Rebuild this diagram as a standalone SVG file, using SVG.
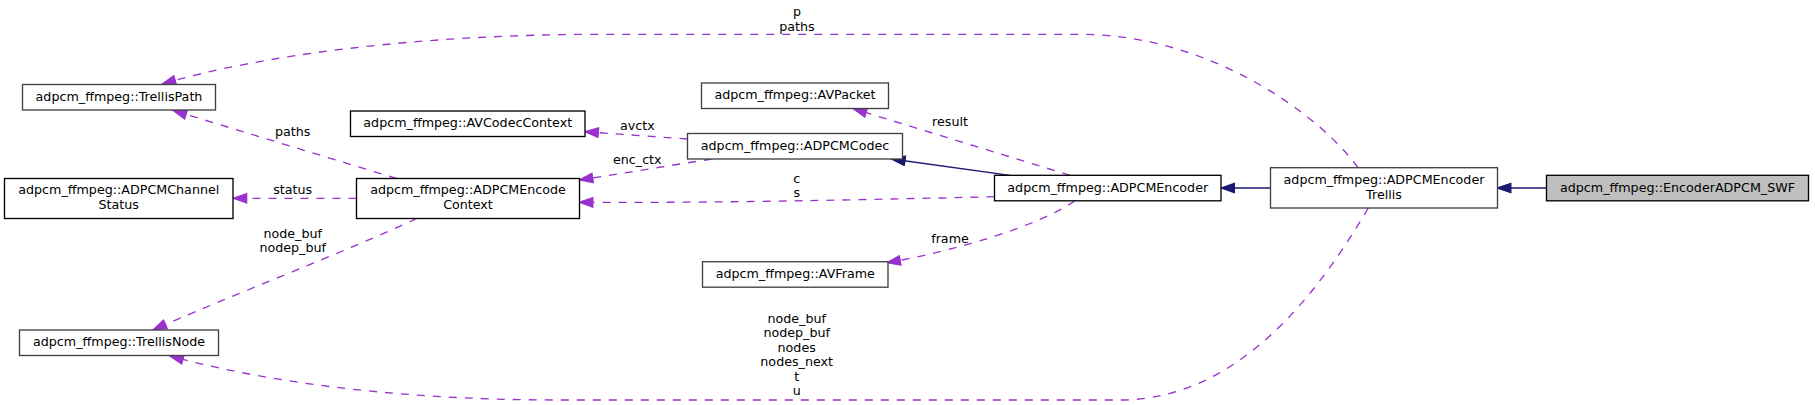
<svg xmlns="http://www.w3.org/2000/svg" width="1815" height="405" viewBox="0 0 1815 405">
<style>
  text { font-family: "DejaVu Sans", "Liberation Sans", sans-serif; font-size: 12.7px; fill: #000; text-anchor: middle; }
  .box { fill: #fff; stroke: #000; stroke-width: 1.33; }
  .gbox { fill: #fff; stroke: #404040; stroke-width: 1.33; }
  .cur { fill: #bfbfbf; stroke: #000; stroke-width: 1.33; }
  .inh { fill: none; stroke: #191970; stroke-width: 1.33; }
  .use { fill: none; stroke: #9a32cd; stroke-width: 1.33; stroke-dasharray: 8,8; }
</style>
<defs>
  <marker id="ah" markerUnits="userSpaceOnUse" viewBox="-1 -1 15.5 11.5" markerWidth="15.5" markerHeight="11.5" refX="13.33" refY="4.67" orient="auto">
    <path d="M0,0 L13.33,4.67 L0,9.33 z" fill="#191970" stroke="#191970" stroke-width="1.33"/>
  </marker>
  <marker id="ap" markerUnits="userSpaceOnUse" viewBox="-1 -1 15.5 11.5" markerWidth="15.5" markerHeight="11.5" refX="13.33" refY="4.67" orient="auto">
    <path d="M0,0 L13.33,4.67 L0,9.33 z" fill="#9a32cd" stroke="#9a32cd" stroke-width="1.33"/>
  </marker>
</defs>
<rect x="0" y="0" width="1815" height="405" fill="#fff"/>

<g id="edges">
  <path class="inh" d="M1546.5,188 L1497.5,188" marker-end="url(#ah)"/>
  <path class="inh" d="M1270.5,188 L1221,188" marker-end="url(#ah)"/>
  <path class="inh" d="M1010,175.3 L891.7,159" marker-end="url(#ah)"/>
  <path class="use" d="M1070,175.3 L853.3,108.7" marker-end="url(#ap)"/>
  <path class="use" d="M687.5,139 L585,131.7" marker-end="url(#ap)"/>
  <path class="use" d="M711.7,159 L579.5,180" marker-end="url(#ap)"/>
  <path class="use" d="M994.5,196.7 C850,200 720,203 579.5,202.3" marker-end="url(#ap)"/>
  <path class="use" d="M1075,200.8 C1040,225 960,250 887,262.7" marker-end="url(#ap)"/>
  <path class="use" d="M356.5,198.3 L233.3,198.3" marker-end="url(#ap)"/>
  <path class="use" d="M396.7,178.5 L173.3,110.5" marker-end="url(#ap)"/>
  <path class="use" d="M416.7,218.5 C350,250 220,300 153.3,329.8" marker-end="url(#ap)"/>
  <path class="use" d="M1358,167.7 C1320,115 1210,34.3 1080,34.3 L600,34.3 C420,34.3 260,55 162.3,84" marker-end="url(#ap)"/>
  <path class="use" d="M1368.3,208 C1320,290 1240,400 1120,400 L560,400 C380,400 250,378 170,356" marker-end="url(#ap)"/>
  <text x="797" y="16">p</text>
  <text x="797" y="30.5">paths</text>
  <text x="950" y="126">result</text>
  <text x="637.3" y="130">avctx</text>
  <text x="637.3" y="164.3">enc_ctx</text>
  <text x="796.7" y="182.7">c</text>
  <text x="796.7" y="196.7">s</text>
  <text x="950" y="242.7">frame</text>
  <text x="292.7" y="135.7">paths</text>
  <text x="292.7" y="194.3">status</text>
  <text x="292.7" y="238.3">node_buf</text>
  <text x="292.7" y="252.3">nodep_buf</text>
  <text x="796.7" y="322.5">node_buf</text>
  <text x="796.7" y="337">nodep_buf</text>
  <text x="796.7" y="351.5">nodes</text>
  <text x="796.7" y="366">nodes_next</text>
  <text x="796.7" y="380.5">t</text>
  <text x="796.7" y="395">u</text>
</g>

<g id="node-swf">
  <rect class="cur" x="1546.5" y="175.3" width="262" height="25.5"/>
  <text x="1677.5" y="191.5">adpcm_ffmpeg::EncoderADPCM_SWF</text>
</g>
<g id="node-trellis">
  <rect class="gbox" x="1270.5" y="167.7" width="227" height="40.3"/>
  <text x="1384" y="183.7">adpcm_ffmpeg::ADPCMEncoder</text>
  <text x="1384" y="198.5">Trellis</text>
</g>
<g id="node-encoder">
  <rect class="box" x="994.5" y="175.3" width="226.5" height="25.5"/>
  <text x="1107.75" y="191.5">adpcm_ffmpeg::ADPCMEncoder</text>
</g>
<g id="node-codec">
  <rect class="gbox" x="687.5" y="133.5" width="215" height="25.5"/>
  <text x="795" y="149.5">adpcm_ffmpeg::ADPCMCodec</text>
</g>
<g id="node-avpacket">
  <rect class="gbox" x="701.5" y="83" width="187" height="25.5"/>
  <text x="795" y="99">adpcm_ffmpeg::AVPacket</text>
</g>
<g id="node-avframe">
  <rect class="gbox" x="702.5" y="261.7" width="185.5" height="25.5"/>
  <text x="795.25" y="277.7">adpcm_ffmpeg::AVFrame</text>
</g>
<g id="node-avcodeccontext">
  <rect class="box" x="350.5" y="111" width="234.5" height="25.5"/>
  <text x="467.75" y="127">adpcm_ffmpeg::AVCodecContext</text>
</g>
<g id="node-encodecontext">
  <rect class="box" x="356.5" y="178.5" width="223" height="40"/>
  <text x="468" y="194">adpcm_ffmpeg::ADPCMEncode</text>
  <text x="468" y="208.5">Context</text>
</g>
<g id="node-channelstatus">
  <rect class="box" x="4.5" y="178.5" width="228.5" height="40"/>
  <text x="118.75" y="194">adpcm_ffmpeg::ADPCMChannel</text>
  <text x="118.75" y="208.5">Status</text>
</g>
<g id="node-trellispath">
  <rect class="gbox" x="22.5" y="84.5" width="193" height="25.5"/>
  <text x="119" y="101">adpcm_ffmpeg::TrellisPath</text>
</g>
<g id="node-trellisnode">
  <rect class="gbox" x="19.5" y="330" width="199" height="25.5"/>
  <text x="119" y="346">adpcm_ffmpeg::TrellisNode</text>
</g>
</svg>
